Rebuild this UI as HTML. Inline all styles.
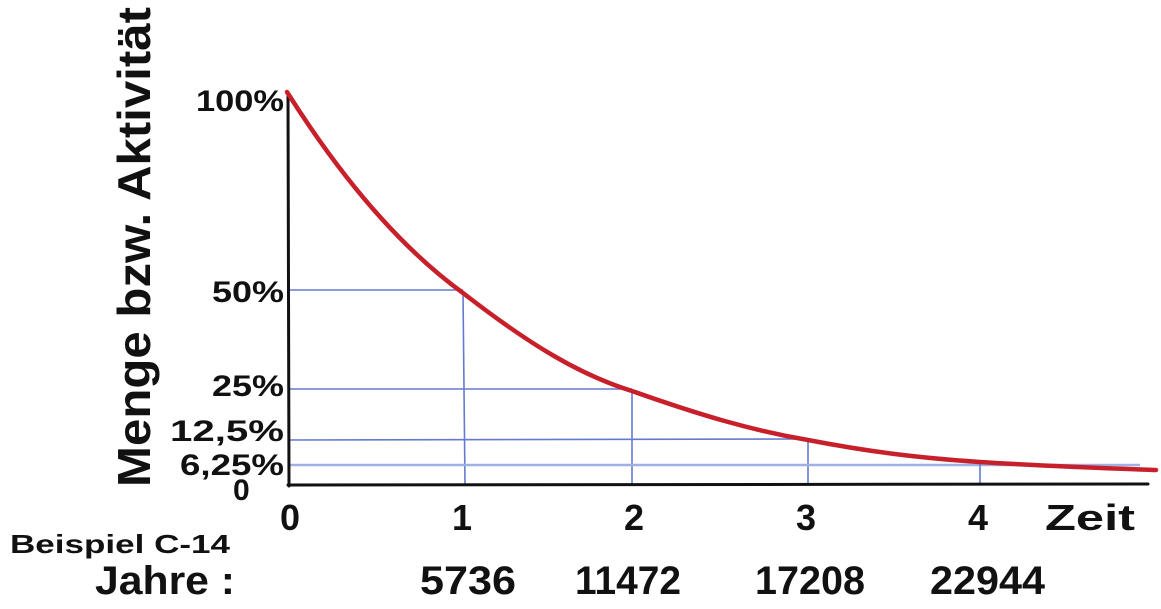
<!DOCTYPE html>
<html><head><meta charset="utf-8"><style>
html,body{margin:0;padding:0;background:#fff;}
svg{display:block;}
text{font-family:"Liberation Sans",sans-serif;fill:#111;}
</style></head><body>
<svg width="1161" height="609" viewBox="0 0 1161 609" xmlns="http://www.w3.org/2000/svg">
<rect width="1161" height="609" fill="#fff"/>
<!-- blue guide lines -->
<g stroke="#4a63c8" stroke-width="1.6" fill="none" opacity="0.85">
<line x1="289" y1="290" x2="463" y2="290"/>
<line x1="463" y1="292" x2="465" y2="485"/>
<line x1="289" y1="389" x2="632" y2="389"/>
<line x1="632" y1="391" x2="632" y2="485"/>
<line x1="289" y1="440" x2="808" y2="439"/>
<line x1="808" y1="438" x2="808" y2="485"/>
<line x1="289" y1="465" x2="1140" y2="465" stroke="#8fa3e0" stroke-width="2.5"/>
<line x1="980" y1="460" x2="980" y2="485"/>
</g>
<!-- axes -->
<g stroke="#111" stroke-width="3" fill="none" stroke-linecap="round">
<line x1="288" y1="95" x2="289" y2="486"/>
<line x1="288" y1="485" x2="1148" y2="484"/>
</g>
<!-- red curve -->
<path d="M287,92 C330,160 390,240 463,293 C530,345 580,375 632,391 C700,415 750,430 808,440 C870,452 920,458 980,462 C1040,466 1100,468 1156,470" stroke="#c8202a" stroke-width="4.5" fill="none" stroke-linecap="round"/>
<!-- y labels -->
<g font-size="30" font-weight="bold">
<text x="196" y="111" textLength="88" lengthAdjust="spacingAndGlyphs">100%</text>
<text x="212" y="302" textLength="72" lengthAdjust="spacingAndGlyphs">50%</text>
<text x="212" y="396" textLength="72" lengthAdjust="spacingAndGlyphs">25%</text>
<text x="170" y="441" textLength="114" lengthAdjust="spacingAndGlyphs">12,5%</text>
<text x="180" y="475" textLength="104" lengthAdjust="spacingAndGlyphs">6,25%</text>
<text x="233" y="500">0</text>
</g>
<text transform="translate(150,487) rotate(-90)" font-size="46" font-weight="bold" textLength="480" lengthAdjust="spacingAndGlyphs">Menge bzw. Aktivität</text>
<!-- x labels -->
<g font-size="36" font-weight="bold">
<text x="280" y="530">0</text>
<text x="452" y="530">1</text>
<text x="624" y="530">2</text>
<text x="796" y="530">3</text>
<text x="968" y="530">4</text>
<text x="1045" y="530" textLength="90" lengthAdjust="spacingAndGlyphs">Zeit</text>
</g>
<text x="10" y="553" font-size="26" font-weight="bold" textLength="220" lengthAdjust="spacingAndGlyphs">Beispiel C-14</text>
<g font-size="40" font-weight="bold">
<text x="95" y="594" textLength="140" lengthAdjust="spacingAndGlyphs">Jahre :</text>
<text x="420" y="594" textLength="96" lengthAdjust="spacingAndGlyphs">5736</text>
<text x="575" y="594" textLength="106" lengthAdjust="spacingAndGlyphs">11472</text>
<text x="755" y="594" textLength="110" lengthAdjust="spacingAndGlyphs">17208</text>
<text x="930" y="594" textLength="115" lengthAdjust="spacingAndGlyphs">22944</text>
</g>
</svg>
</body></html>
